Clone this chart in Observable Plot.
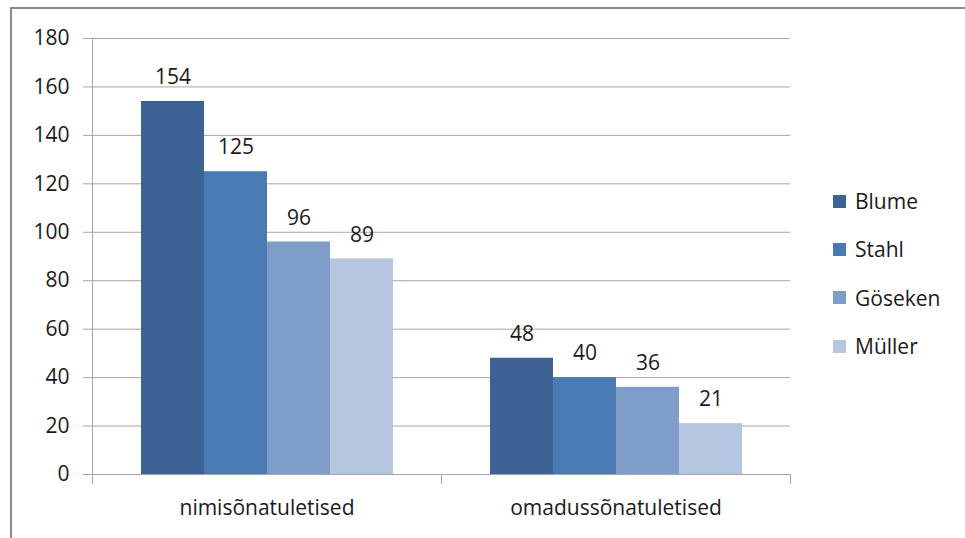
<!DOCTYPE html>
<html>
<head>
<meta charset="utf-8">
<script src="https://cdn.jsdelivr.net/npm/d3@7"></script>
<script src="https://cdn.jsdelivr.net/npm/@observablehq/plot@0.6"></script>
<style>
  body { margin: 0; background: #fff; }
  #wrap { position: relative; width: 965px; height: 538px; overflow: hidden; font-family: "Open Sans", Lato, sans-serif; }
  #border { position: absolute; left: 10px; top: 7px; width: 980px; height: 560px; border-top: 2.5px solid #8a8a8a; border-left: 2.5px solid #8a8a8a; box-sizing: border-box; }
  #chart { position: absolute; left: 0; top: 0; }
  #legend { position: absolute; left: 833px; top: 177px; font-size: 21px; color: #1a1a1a; }
  .row { display: flex; align-items: center; height: 48.3px; }
  .sw { width: 13px; height: 13px; margin-right: 9px; }
</style>
</head>
<body>
<div id="wrap">
  <div id="border"></div>
  <div id="chart"></div>
  <div id="legend"></div>
</div>
<script>
const categories = ["nimisõnatuletised", "omadussõnatuletised"];
const series = ["Blume", "Stahl", "Göseken", "Müller"];
const nimisonaValues = [154, 125, 96, 89];
const omadussonaValues = [48, 40, 36, 21];
const seriesColors = ["#3c6394", "#4a7ab3", "#7f9dc9", "#b6c5e0"];
const yTicks = [0, 20, 40, 60, 80, 100, 120, 140, 160, 180];

const data = [];
series.forEach((s, i) => {
  data.push({cat: categories[0], series: s, value: nimisonaValues[i]});
  data.push({cat: categories[1], series: s, value: omadussonaValues[i]});
});

const gray = "#a6a6a6";
const plotH = 538 - 38 - 64;

const chart = Plot.plot({
  width: 965,
  height: 538,
  marginLeft: 92,
  marginRight: 175,
  marginTop: 38,
  marginBottom: 64,
  style: {fontFamily: "'Open Sans', Lato, sans-serif", fontSize: "21px", color: "#1a1a1a", background: "transparent"},
  fx: {domain: categories, padding: 0, label: null},
  x: {domain: series, paddingInner: 0, paddingOuter: 0.748, axis: null},
  y: {domain: [0, 180]},
  color: {domain: series, range: seriesColors},
  marks: [
    Plot.gridY(yTicks, {stroke: gray, strokeOpacity: 1}),
    Plot.barY(data, {fx: "cat", x: "series", y: "value", fill: "series"}),
    Plot.text(data, {fx: "cat", x: "series", y: "value", text: d => String(d.value), dy: -24, fill: "#1a1a1a"}),
    Plot.ruleY([0], {stroke: gray}),
    Plot.frame({anchor: "left", fx: () => categories[0], stroke: gray}),
    Plot.frame({anchor: "left", stroke: gray, insetTop: plotH, insetBottom: -9}),
    Plot.frame({anchor: "right", fx: () => categories[1], stroke: gray, insetTop: plotH, insetBottom: -9}),
    Plot.axisY(yTicks, {tickSize: 9, tickPadding: 14, stroke: gray, fill: "#1a1a1a", label: null}),
    Plot.axisFx({anchor: "bottom", tickSize: 0, tickPadding: 26, label: null, fill: "#1a1a1a"})
  ]
});
document.getElementById("chart").appendChild(chart);

const legend = document.getElementById("legend");
series.forEach((s, i) => {
  const row = document.createElement("div");
  row.className = "row";
  const sw = document.createElement("div");
  sw.className = "sw";
  sw.style.background = seriesColors[i];
  const t = document.createElement("span");
  t.textContent = s;
  row.appendChild(sw);
  row.appendChild(t);
  legend.appendChild(row);
});
</script>
</body>
</html>
